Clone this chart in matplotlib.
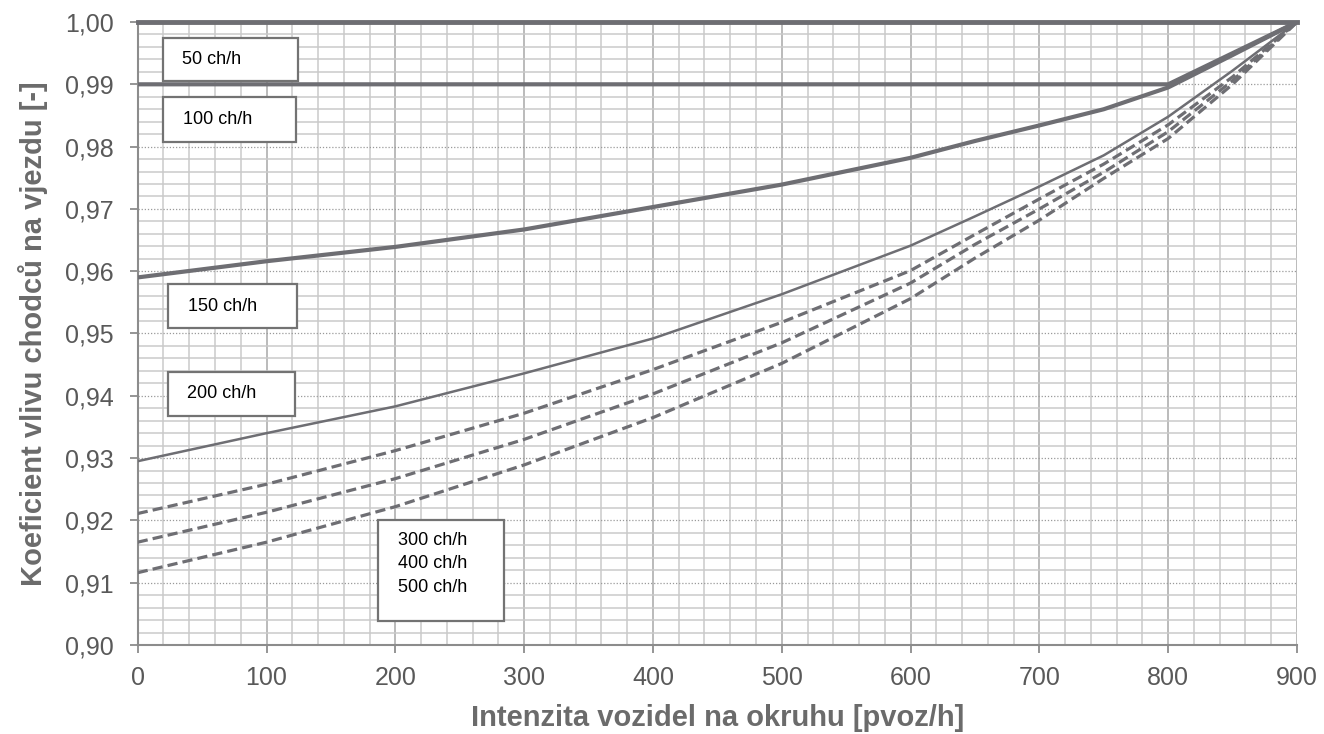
import matplotlib
matplotlib.use("Agg")
import matplotlib.pyplot as plt
from matplotlib.patches import Rectangle
from matplotlib.ticker import MultipleLocator, FuncFormatter

plt.rcParams['font.family'] = ['Liberation Sans', 'DejaVu Sans']

# intenzita vozidel na okruhu [pvoz/h]
intenzita = [0, 100, 200, 300, 400, 500, 600, 650, 700, 750, 800, 850, 900]

# koeficient vlivu chodcu pro jednotlive intenzity chodcu
k50 = [1.0, 1.0, 1.0, 1.0, 1.0, 1.0, 1.0, 1.0, 1.0, 1.0, 1.0, 1.0, 1.0]
k100 = [0.99, 0.99, 0.99, 0.99, 0.99, 0.99, 0.99, 0.99, 0.99, 0.99, 0.99, 0.995, 1.0]
k150 = [0.9590, 0.9616, 0.9639, 0.9667, 0.9703, 0.9739, 0.9782, 0.9809, 0.9834, 0.9860, 0.9895, 0.9947, 1.0]
k200 = [0.9295, 0.9340, 0.9383, 0.9436, 0.9492, 0.9563, 0.9641, 0.9688, 0.9736, 0.9786, 0.9848, 0.9922, 1.0]
k300 = [0.9211, 0.9258, 0.9312, 0.9372, 0.9442, 0.9518, 0.9601, 0.9659, 0.9716, 0.9772, 0.9835, 0.9912, 1.0]
k400 = [0.9165, 0.9213, 0.9267, 0.9330, 0.9403, 0.9485, 0.9581, 0.9643, 0.9700, 0.9759, 0.9824, 0.9906, 1.0]
k500 = [0.9116, 0.9165, 0.9222, 0.9289, 0.9365, 0.9452, 0.9556, 0.9621, 0.9682, 0.9749, 0.9813, 0.9900, 1.0]

popisky = ["50 ch/h", "100 ch/h", "150 ch/h", "200 ch/h", "300 ch/h\n400 ch/h\n500 ch/h"]

barva = '#6e6e73'
carkovane = (0, (3.2, 1.6))

fig = plt.figure(figsize=(13.24, 7.34), dpi=100)
ax = fig.add_axes([0.104, 0.1213, 0.8756, 0.8487])

# krivky
ax.plot(intenzita, k500, color=barva, lw=2.3, ls=carkovane, zorder=3)
ax.plot(intenzita, k400, color=barva, lw=2.3, ls=carkovane, zorder=3)
ax.plot(intenzita, k300, color=barva, lw=2.3, ls=carkovane, zorder=3)
ax.plot(intenzita, k200, color=barva, lw=1.8, zorder=3)
ax.plot(intenzita, k150, color=barva, lw=3.0, zorder=3)
ax.plot(intenzita, k100, color=barva, lw=3.0, zorder=3)
ax.plot(intenzita, k50, color=barva, lw=3.5, zorder=3, clip_on=False)

ax.set_xlim(0, 900)
ax.set_ylim(0.90, 1.00)

# mrizka
ax.xaxis.set_major_locator(MultipleLocator(100))
ax.xaxis.set_minor_locator(MultipleLocator(20))
ax.yaxis.set_major_locator(MultipleLocator(0.01))
ax.yaxis.set_minor_locator(MultipleLocator(0.002))
ax.grid(which='minor', axis='both', color='#cacaca', lw=1.1, zorder=0)
ax.grid(which='major', axis='x', color='#a8a8a8', lw=1.1, zorder=0)
ax.grid(which='major', axis='y', color='#9a9a9a', lw=0.9, ls=(0, (1, 1.5)), zorder=0)
ax.set_axisbelow(True)

ax.yaxis.set_major_formatter(FuncFormatter(lambda v, p: f"{v:.2f}".replace('.', ',')))
ax.xaxis.set_major_formatter(FuncFormatter(lambda v, p: f"{v:.0f}"))

for s in ['top', 'right']:
    ax.spines[s].set_visible(False)
for s in ['left', 'bottom']:
    ax.spines[s].set_color('#8c8c8c')
    ax.spines[s].set_linewidth(1.5)

ax.tick_params(which='major', direction='out', length=5.5, width=1.3, color='#8c8c8c',
               labelsize=18, labelcolor='#595959')
ax.tick_params(which='minor', length=0)
ax.tick_params(axis='y', pad=12)
ax.tick_params(axis='x', pad=10)

ax.set_xlabel("Intenzita vozidel na okruhu [pvoz/h]", fontsize=21, fontweight='bold',
              color='#6b6b6b', labelpad=10)
ax.set_ylabel("Koeficient vlivu chodců na vjezdu [-]", fontsize=21, fontweight='bold',
              color='#6b6b6b', labelpad=12)

# popisky v ramecku
ramecky = [(19.3, 0.99058, 105.2, 0.00690, 34.4, 0.9940),
           (19.6, 0.98074, 103.3, 0.00722, 35.0, 0.9843),
           (23.5, 0.95088, 100.2, 0.00707, 39.0, 0.9544),
           (23.5, 0.93676, 98.6, 0.00706, 38.0, 0.9403),
           (186.6, 0.90385, 97.8, 0.01622, 202.0, 0.9130)]
for (x0, y0, w, h, tx, ty), txt in zip(ramecky, popisky):
    ax.add_patch(Rectangle((x0, y0), w, h, facecolor='white', edgecolor='#737373',
                           lw=1.6, zorder=5))
    ax.text(tx, ty, txt, fontsize=13, color='black', va='center', ha='left',
            linespacing=1.5, zorder=6)

fig.savefig("out.png", dpi=100)
